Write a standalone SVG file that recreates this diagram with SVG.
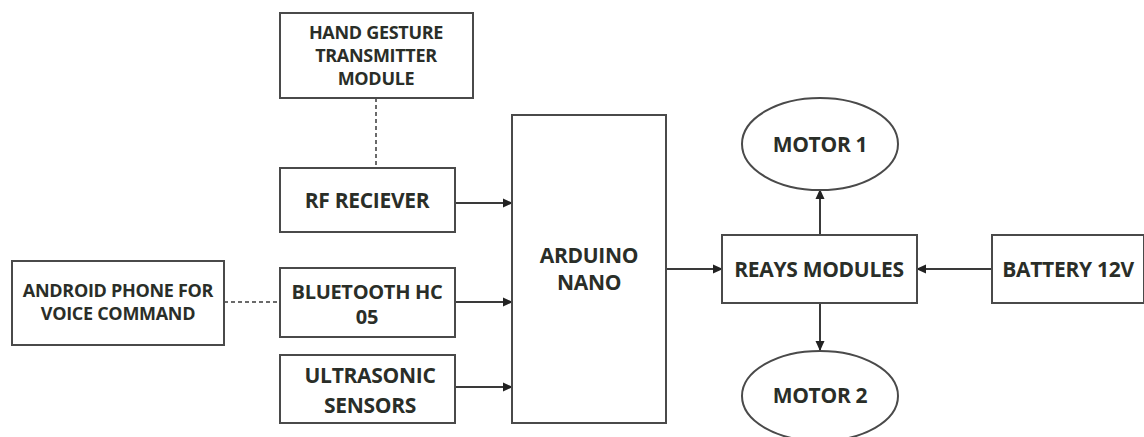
<svg xmlns="http://www.w3.org/2000/svg" width="1144" height="437" viewBox="0 0 1144 437">
<defs>
<style>
.box{fill:#fff;stroke:#4a4a4a;stroke-width:2}
.t{font-family:"Open Sans","Liberation Sans",sans-serif;font-weight:700;font-size:21px;fill:#2a2e28;text-anchor:middle;letter-spacing:-0.3px}
.s{font-size:18px}
.m{font-size:20px}
.c{stroke:#3a3a3a;stroke-width:2;fill:none}
.d{stroke:#3a3a3a;stroke-width:1.5;fill:none;stroke-dasharray:4 3}
</style>
<marker id="ah" markerWidth="10" markerHeight="10" refX="9" refY="5" orient="auto" markerUnits="userSpaceOnUse">
<path d="M0,0.5 L10,5 L0,9.5 Z" fill="#222"/>
</marker>
</defs>
<rect width="1144" height="437" fill="#fff"/>
<g id="connectors">
<line class="d" x1="376" y1="98" x2="376" y2="168"/>
<line class="d" x1="224" y1="302" x2="280" y2="302"/>
<line class="c" x1="455" y1="203" x2="512" y2="203" marker-end="url(#ah)"/>
<line class="c" x1="455" y1="302" x2="512" y2="302" marker-end="url(#ah)"/>
<line class="c" x1="455" y1="387" x2="512" y2="387" marker-end="url(#ah)"/>
<line class="c" x1="666" y1="269" x2="722" y2="269" marker-end="url(#ah)"/>
<line class="c" x1="992" y1="269" x2="917" y2="269" marker-end="url(#ah)"/>
<line class="c" x1="820" y1="235" x2="820" y2="190" marker-end="url(#ah)"/>
<line class="c" x1="820" y1="303" x2="820" y2="350" marker-end="url(#ah)"/>
</g>
<g id="hand">
<rect class="box" x="280" y="13" width="193" height="85"/>
<text class="t s" x="376" y="39">HAND GESTURE</text>
<text class="t s" x="376" y="62">TRANSMITTER</text>
<text class="t s" x="376" y="85">MODULE</text>
</g>
<g id="rf">
<rect class="box" x="280" y="168" width="175" height="64"/>
<text class="t" x="367" y="208">RF RECIEVER</text>
</g>
<g id="android">
<rect class="box" x="12" y="261" width="212" height="84"/>
<text class="t s" x="118" y="297">ANDROID PHONE FOR</text>
<text class="t s" x="118" y="320">VOICE COMMAND</text>
</g>
<g id="bluetooth">
<rect class="box" x="280" y="268" width="175" height="69"/>
<text class="t m" x="367" y="299">BLUETOOTH HC</text>
<text class="t m" x="367" y="324">05</text>
</g>
<g id="ultrasonic">
<rect class="box" x="280" y="355" width="175" height="68"/>
<text class="t" x="370" y="383">ULTRASONIC</text>
<text class="t" x="370" y="413">SENSORS</text>
</g>
<g id="arduino">
<rect class="box" x="512" y="115" width="154" height="308"/>
<text class="t" x="589" y="263">ARDUINO</text>
<text class="t" x="589" y="290">NANO</text>
</g>
<g id="reays">
<rect class="box" x="722" y="235" width="195" height="68"/>
<text class="t" x="819" y="277">REAYS MODULES</text>
</g>
<g id="battery">
<rect class="box" x="992" y="235" width="152" height="68"/>
<text class="t" x="1068" y="277">BATTERY 12V</text>
</g>
<g id="motor1">
<ellipse class="box" cx="820" cy="144" rx="78" ry="46"/>
<text class="t" x="820" y="152">MOTOR 1</text>
</g>
<g id="motor2">
<ellipse class="box" cx="820" cy="396" rx="78" ry="45"/>
<text class="t" x="820" y="403">MOTOR 2</text>
</g>
</svg>
